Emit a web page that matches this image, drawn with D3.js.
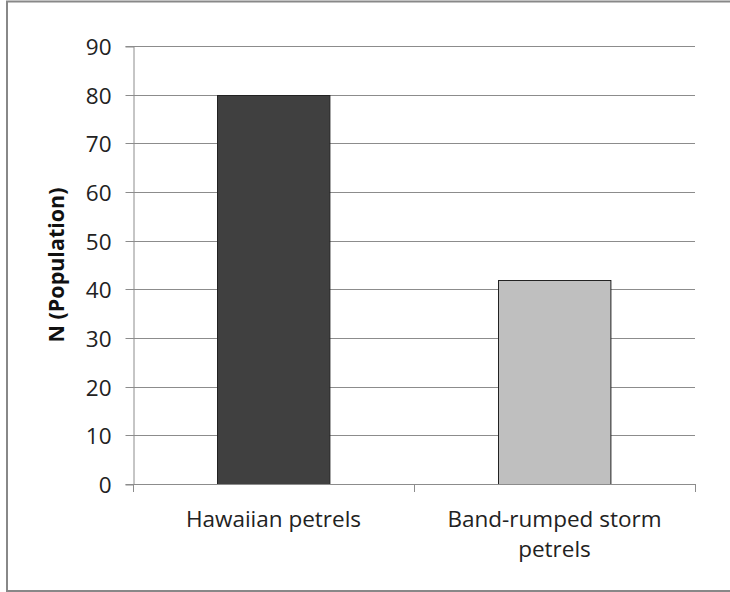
<!DOCTYPE html>
<html>
<head>
<meta charset="utf-8">
<script src="https://cdn.jsdelivr.net/npm/d3@7"></script>
<style>
	body { margin: 0; background: #fff; }
	svg { display: block; }
</style>
</head>
<body>
<div class="canvas"></div>
<script>
const categories = [['Hawaiian petrels'], ['Band-rumped storm', 'petrels']];
const values = [80, 42];
const barColours = ['#404040', '#bfbfbf'];
const yTicks = [0, 10, 20, 30, 40, 50, 60, 70, 80, 90];

const dims = {width: 730, height: 592};
const plot = {left: 133, right: 695, top: 46, bottom: 484};

const svg = d3.select('.canvas')
	.append('svg')
	.attr('width', dims.width)
	.attr('height', dims.height);

// outer chart border (right side falls off the picture)
svg.append('rect')
	.attr('x', 7)
	.attr('y', 1.5)
	.attr('width', 740)
	.attr('height', 589.5)
	.attr('fill', 'none')
	.attr('stroke', '#888')
	.attr('stroke-width', 2);

const y = d3.scaleLinear()
	.domain([0, 90])
	.range([plot.bottom, plot.top]);

const x = d3.scaleBand()
	.domain(d3.range(categories.length))
	.range([plot.left, plot.right])
	.paddingInner(0.6)
	.paddingOuter(0.3);

// gridlines
svg.append('g')
	.selectAll('line')
	.data(yTicks.filter(d => d > 0))
	.enter()
	.append('line')
		.attr('x1', plot.left)
		.attr('x2', plot.right)
		.attr('y1', d => Math.round(y(d)) + 0.5)
		.attr('y2', d => Math.round(y(d)) + 0.5)
		.attr('stroke', '#8c8c8c')
		.attr('stroke-width', 1);

// y axis
const yAxis = svg.append('g')
	.attr('transform', `translate(${plot.left + 0.5}, 0.5)`)
	.call(d3.axisLeft(y).tickValues(yTicks).tickSize(8).tickPadding(14));

yAxis.select('.domain').attr('stroke', '#8c8c8c');
yAxis.selectAll('.tick line').attr('stroke', '#8c8c8c');
yAxis.selectAll('.tick').attr('transform', d => `translate(0, ${Math.round(y(d))})`);
yAxis.selectAll('text')
	.attr('fill', '#222')
	.attr('font-family', 'Open Sans, sans-serif')
	.attr('font-size', 22.5)
	.attr('dy', '0.36em');

// bars
svg.append('g')
	.selectAll('rect')
	.data(values)
	.enter()
	.append('rect')
		.attr('x', (d, i) => Math.round(x(i)) + 0.5)
		.attr('y', d => Math.round(y(d)) + 0.5)
		.attr('width', x.bandwidth())
		.attr('height', d => Math.round(y(0)) - Math.round(y(d)))
		.attr('fill', (d, i) => barColours[i])
		.attr('stroke', '#222')
		.attr('stroke-width', 1);

// x axis line + category ticks
const xg = svg.append('g').attr('stroke', '#8c8c8c');
xg.append('line')
	.attr('x1', plot.left)
	.attr('x2', plot.right + 0.5)
	.attr('y1', Math.round(y(0)) + 0.5)
	.attr('y2', Math.round(y(0)) + 0.5);

const step = x.step();
xg.selectAll('.xtick')
	.data(d3.range(categories.length + 1))
	.enter()
	.append('line')
		.attr('class', 'xtick')
		.attr('x1', i => Math.round(plot.left + i * step) + 0.5)
		.attr('x2', i => Math.round(plot.left + i * step) + 0.5)
		.attr('y1', Math.round(y(0)))
		.attr('y2', Math.round(y(0)) + 8);

// category labels
svg.append('g')
	.selectAll('text')
	.data(categories)
	.enter()
	.append('text')
		.attr('text-anchor', 'middle')
		.attr('font-family', 'Open Sans, sans-serif')
		.attr('font-size', 22.5)
		.attr('fill', '#222')
		.attr('transform', (d, i) => `translate(${x(i) + x.bandwidth() / 2}, 527)`)
		.selectAll('tspan')
		.data(d => d)
		.enter()
		.append('tspan')
			.attr('x', 0)
			.attr('y', (d, i) => i * 30)
			.text(d => d);

// y axis title
svg.append('text')
	.attr('transform', `translate(64, ${(plot.top + plot.bottom) / 2}) rotate(-90)`)
	.attr('text-anchor', 'middle')
	.attr('font-family', 'Open Sans, sans-serif')
	.attr('font-weight', 'bold')
	.attr('font-size', 21.5)
	.attr('fill', '#111')
	.text('N (Population)');
</script>
</body>
</html>
